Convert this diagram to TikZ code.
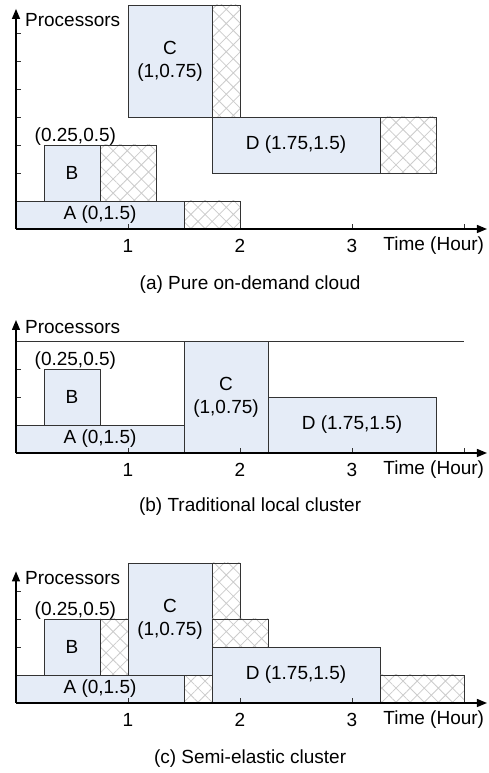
\documentclass[tikz,border=0pt]{standalone}
\usepackage{fontspec}
\setmainfont{Liberation Sans}
\usetikzlibrary{arrows.meta,patterns.meta}
\definecolor{jobblue}{HTML}{E5ECF7}
\tikzset{
  jobbox/.style={draw=black!80,fill=jobblue,line width=0.9pt},
  idlebox/.style={draw=black!80,line width=0.9pt,pattern={Hatch[angle=45,distance=10pt,line width=0.8pt]},pattern color=black!20},
  axisline/.style={-{Triangle[length=10pt,width=8pt]},line width=1.3pt,black},
  axtick/.style={line width=0.8pt,black!80},
  chtext/.style={font=\fontsize{19}{23}\selectfont,inner sep=0pt,align=center},
  caplab/.style={chtext},
}

\begin{document}
\begin{tikzpicture}
  \path[use as bounding box,fill=white] (0,0) rectangle (488pt,773pt);
  % (a) pure on-demand cloud
  \begin{scope}[shift={(16pt,544pt)},x=112pt,y=28pt]
    \draw[jobbox] (0,0) rectangle (1.5,1);
    \draw[idlebox] (1.5,0) rectangle (2,1);
    \draw[jobbox] (0.25,1) rectangle (0.75,3);
    \draw[idlebox] (0.75,1) rectangle (1.25,3);
    \draw[jobbox] (1,4) rectangle (1.75,8);
    \draw[idlebox] (1.75,4) rectangle (2,8);
    \draw[jobbox] (1.75,2) rectangle (3.25,4);
    \draw[idlebox] (3.25,2) rectangle (3.75,4);
    \coordinate (aO) at (0,0);
    \coordinate (aX) at (4.205,0);
    \coordinate (aY) at (0,7.86);
    \draw[axtick] (0,1) -- ++(5pt,0) (0,2) -- ++(5pt,0) (0,3) -- ++(5pt,0) (0,4) -- ++(5pt,0)
      (0,5) -- ++(5pt,0) (0,6) -- ++(5pt,0) (0,7) -- ++(5pt,0);
    \draw[axtick] (1,0) -- ++(0,5pt) (2,0) -- ++(0,5pt) (3,0) -- ++(0,5pt) (4,0) -- ++(0,5pt);
    \draw[axisline] (aO) -- (aX);
    \draw[axisline] (aO) -- (aY);
    \node[chtext] (aA) at (0.75,0.5) {A (0,1.5)};
    \node[chtext] (aB) at (0.5,2) {B};
    \node[chtext] (aBl) at (0.53,3.3) {(0.25,0.5)};
    \node[chtext] (aC) at (1.375,6) {C\\(1,0.75)};
    \node[chtext] (aD) at (2.5,3) {D (1.75,1.5)};
    \node[chtext,anchor=west] (aP) at (0.08,7.46) {Processors};
    \node[chtext] (a1) at (1,-0.6) {1};
    \node[chtext] (a2) at (2,-0.6) {2};
    \node[chtext] (a3) at (3,-0.6) {3};
    \node[chtext] (aT) at (3.73,-0.6) {Time (Hour)};
    \node[caplab] (aCap) at (2.09,-2.0) {(a) Pure on-demand cloud};
  \end{scope}
  % (b) traditional local cluster
  \begin{scope}[shift={(16pt,320pt)},x=112pt,y=28pt]
    \draw[jobbox] (0,0) rectangle (1.5,1);
    \draw[jobbox] (0.25,1) rectangle (0.75,3);
    \draw[jobbox] (1.5,0) rectangle (2.25,4);
    \draw[jobbox] (2.25,0) rectangle (3.75,2);
    \coordinate (bO) at (0,0);
    \coordinate (bX) at (4.205,0);
    \coordinate (bY) at (0,4.75);
    \coordinate (bL) at (0,4);
    \coordinate (bR) at (4,4);
    \draw[black!80,line width=0.9pt] (bL) -- (bR);
    \draw[axtick] (0,1) -- ++(5pt,0) (0,2) -- ++(5pt,0) (0,3) -- ++(5pt,0);
    \draw[axtick] (1,0) -- ++(0,5pt) (2,0) -- ++(0,5pt) (3,0) -- ++(0,5pt) (4,0) -- ++(0,5pt);
    \draw[axisline] (bO) -- (bX);
    \draw[axisline] (bO) -- (bY);
    \node[chtext] (bA) at (0.75,0.5) {A (0,1.5)};
    \node[chtext] (bB) at (0.5,2) {B};
    \node[chtext] (bBl) at (0.53,3.3) {(0.25,0.5)};
    \node[chtext] (bC) at (1.875,2) {C\\(1,0.75)};
    \node[chtext] (bD) at (3,1) {D (1.75,1.5)};
    \node[chtext,anchor=west] (bP) at (0.08,4.5) {Processors};
    \node[chtext] (b1) at (1,-0.6) {1};
    \node[chtext] (b2) at (2,-0.6) {2};
    \node[chtext] (b3) at (3,-0.6) {3};
    \node[chtext] (bT) at (3.73,-0.6) {Time (Hour)};
    \node[caplab] (bCap) at (2.09,-1.9) {(b) Traditional local cluster};
  \end{scope}
  % (c) semi-elastic cluster
  \begin{scope}[shift={(16pt,70pt)},x=112pt,y=28pt]
    \draw[jobbox] (0,0) rectangle (1.5,1);
    \draw[idlebox] (1.5,0) rectangle (1.75,1);
    \draw[jobbox] (0.25,1) rectangle (0.75,3);
    \draw[idlebox] (0.75,1) rectangle (1,3);
    \draw[jobbox] (1,1) rectangle (1.75,5);
    \draw[idlebox] (1.75,3) rectangle (2,5);
    \draw[idlebox] (1.75,2) rectangle (2.25,3);
    \draw[jobbox] (1.75,0) rectangle (3.25,2);
    \draw[idlebox] (3.25,0) rectangle (4,1);
    \coordinate (cO) at (0,0);
    \coordinate (cX) at (4.205,0);
    \coordinate (cY) at (0,4.7);
    \draw[axtick] (0,1) -- ++(5pt,0) (0,2) -- ++(5pt,0) (0,3) -- ++(5pt,0) (0,4) -- ++(5pt,0);
    \draw[axtick] (1,0) -- ++(0,5pt) (2,0) -- ++(0,5pt) (3,0) -- ++(0,5pt) (4,0) -- ++(0,5pt);
    \draw[axisline] (cO) -- (cX);
    \draw[axisline] (cO) -- (cY);
    \node[chtext] (cA) at (0.75,0.5) {A (0,1.5)};
    \node[chtext] (cB) at (0.5,2) {B};
    \node[chtext] (cBl) at (0.53,3.3) {(0.25,0.5)};
    \node[chtext] (cC) at (1.375,3) {C\\(1,0.75)};
    \node[chtext] (cD) at (2.5,1) {D (1.75,1.5)};
    \node[chtext,anchor=west] (cP) at (0.08,4.46) {Processors};
    \node[chtext] (c1) at (1,-0.6) {1};
    \node[chtext] (c2) at (2,-0.6) {2};
    \node[chtext] (c3) at (3,-0.6) {3};
    \node[chtext] (cT) at (3.73,-0.6) {Time (Hour)};
    \node[caplab] (cCap) at (2.09,-2.0) {(c) Semi-elastic cluster};
  \end{scope}
\end{tikzpicture}
\end{document}
